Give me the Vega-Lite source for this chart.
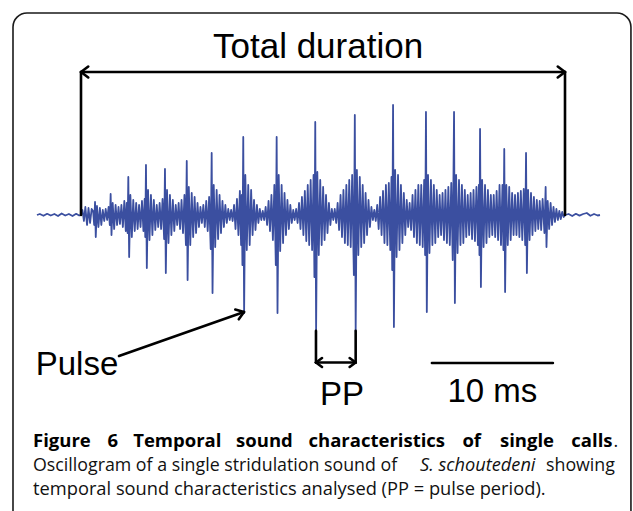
{
  "$schema": "https://vega.github.io/schema/vega-lite/v6.json",
  "width": 633,
  "height": 511,
  "padding": 0,
  "autosize": {"type": "none"},
  "background": "white",
  "config": {"view": {"stroke": null}},
  "datasets": {
    "frame": [{"t": -5.62, "a": 2.02, "t2": 45.45, "a2": -3.3}],
    "wave": [
      {"t":-3.64,"a":0},{"t":-3.4,"a":0.01},{"t":-3.1,"a":-0.008},{"t":-2.8,"a":0.012},{"t":-2.5,"a":-0.005},{"t":-2.2,"a":0.01},{"t":-1.9,"a":-0.01},{"t":-1.6,"a":0.015},{"t":-1.3,"a":-0.005},{"t":-1.0,"a":0.01},{"t":-0.7,"a":-0.01},{"t":-0.4,"a":0.012},{"t":-0.15,"a":-0.005},{"t":0,"a":0},
      {"t":0.12,"a":0.05},{"t":0.24,"a":-0.06},{"t":0.36,"a":0.08},{"t":0.5,"a":-0.1},{"t":0.62,"a":0.07},{"t":0.75,"a":-0.08},{"t":0.88,"a":0.06},{"t":1.0,"a":0.04},{"t":1.09,"a":-0.1},
      {"t":1.16,"a":0.13},{"t":1.22,"a":-0.22},{"t":1.32,"a":0.09},{"t":1.44,"a":-0.12},{"t":1.56,"a":0.07},{"t":1.68,"a":-0.1},{"t":1.8,"a":0.05},{"t":1.92,"a":-0.06},{"t":2.04,"a":0.06},{"t":2.16,"a":-0.05},{"t":2.28,"a":0.08},{"t":2.38,"a":-0.1},
      {"t":2.45,"a":0.21},{"t":2.52,"a":-0.2},{"t":2.62,"a":0.12},{"t":2.74,"a":-0.14},{"t":2.86,"a":0.1},{"t":2.98,"a":-0.1},{"t":3.1,"a":0.08},{"t":3.22,"a":-0.09},{"t":3.34,"a":0.1},{"t":3.46,"a":-0.12},{"t":3.58,"a":0.14},{"t":3.7,"a":-0.16},{"t":3.78,"a":0.12},{"t":3.85,"a":-0.18},
      {"t":3.91,"a":0.38},{"t":3.98,"a":-0.42},{"t":4.08,"a":0.2},{"t":4.2,"a":-0.22},{"t":4.32,"a":0.15},{"t":4.44,"a":-0.16},{"t":4.56,"a":0.12},{"t":4.68,"a":-0.14},{"t":4.8,"a":0.1},{"t":4.92,"a":-0.12},{"t":5.04,"a":0.14},{"t":5.16,"a":-0.16},{"t":5.26,"a":0.16},{"t":5.31,"a":-0.22},
      {"t":5.37,"a":0.5},{"t":5.44,"a":-0.53},{"t":5.54,"a":0.25},{"t":5.66,"a":-0.25},{"t":5.78,"a":0.2},{"t":5.9,"a":-0.2},{"t":6.02,"a":0.15},{"t":6.14,"a":-0.15},{"t":6.26,"a":0.1},{"t":6.38,"a":-0.12},{"t":6.5,"a":0.12},{"t":6.62,"a":-0.14},{"t":6.74,"a":0.16},{"t":6.87,"a":-0.24},
      {"t":6.94,"a":0.46},{"t":7.01,"a":-0.58},{"t":7.11,"a":0.25},{"t":7.23,"a":-0.28},{"t":7.35,"a":0.2},{"t":7.47,"a":-0.2},{"t":7.59,"a":0.15},{"t":7.71,"a":-0.16},{"t":7.83,"a":0.1},{"t":7.95,"a":-0.1},{"t":8.07,"a":0.12},{"t":8.19,"a":-0.14},{"t":8.31,"a":0.15},{"t":8.43,"a":-0.18},{"t":8.55,"a":0.2},{"t":8.67,"a":-0.3},
      {"t":8.74,"a":0.54},{"t":8.81,"a":-0.65},{"t":8.91,"a":0.28},{"t":9.03,"a":-0.3},{"t":9.15,"a":0.22},{"t":9.27,"a":-0.22},{"t":9.39,"a":0.18},{"t":9.51,"a":-0.18},{"t":9.63,"a":0.12},{"t":9.75,"a":-0.12},{"t":9.87,"a":0.08},{"t":9.99,"a":-0.08},{"t":10.11,"a":0.1},{"t":10.23,"a":-0.12},{"t":10.35,"a":0.14},{"t":10.47,"a":-0.16},{"t":10.59,"a":0.18},{"t":10.72,"a":-0.34},
      {"t":10.8,"a":0.62},{"t":10.87,"a":-0.78},{"t":10.97,"a":0.3},{"t":11.09,"a":-0.32},{"t":11.21,"a":0.25},{"t":11.33,"a":-0.24},{"t":11.45,"a":0.2},{"t":11.57,"a":-0.18},{"t":11.69,"a":0.14},{"t":11.81,"a":-0.12},{"t":11.93,"a":0.1},{"t":12.05,"a":-0.08},{"t":12.17,"a":0.06},{"t":12.29,"a":-0.05},{"t":12.41,"a":0.05},{"t":12.53,"a":-0.06},{"t":12.65,"a":0.1},{"t":12.77,"a":-0.14},{"t":12.89,"a":0.16},{"t":13.01,"a":-0.2},{"t":13.13,"a":0.24},{"t":13.23,"a":-0.3},{"t":13.29,"a":0.2},{"t":13.34,"a":-0.5},
      {"t":13.41,"a":0.78},{"t":13.48,"a":-0.98},{"t":13.58,"a":0.4},{"t":13.7,"a":-0.35},{"t":13.82,"a":0.3},{"t":13.94,"a":-0.3},{"t":14.06,"a":0.25},{"t":14.18,"a":-0.2},{"t":14.3,"a":0.15},{"t":14.42,"a":-0.15},{"t":14.54,"a":0.1},{"t":14.66,"a":-0.08},{"t":14.78,"a":0.06},{"t":14.9,"a":-0.05},{"t":15.02,"a":0.04},{"t":15.14,"a":-0.05},{"t":15.26,"a":0.08},{"t":15.38,"a":-0.1},{"t":15.5,"a":0.14},{"t":15.62,"a":-0.16},{"t":15.74,"a":0.2},{"t":15.86,"a":-0.25},{"t":15.98,"a":0.3},{"t":16.1,"a":-0.5},
      {"t":16.17,"a":0.78},{"t":16.24,"a":-0.98},{"t":16.34,"a":0.4},{"t":16.46,"a":-0.36},{"t":16.58,"a":0.3},{"t":16.7,"a":-0.28},{"t":16.82,"a":0.22},{"t":16.94,"a":-0.2},{"t":17.06,"a":0.15},{"t":17.18,"a":-0.14},{"t":17.3,"a":0.1},{"t":17.42,"a":-0.08},{"t":17.54,"a":0.05},{"t":17.66,"a":-0.05},{"t":17.78,"a":0.06},{"t":17.9,"a":-0.08},{"t":18.02,"a":0.12},{"t":18.14,"a":-0.14},{"t":18.26,"a":0.18},{"t":18.38,"a":-0.2},{"t":18.5,"a":0.24},{"t":18.62,"a":-0.26},{"t":18.74,"a":0.3},{"t":18.86,"a":-0.3},{"t":18.98,"a":0.35},{"t":19.1,"a":-0.35},{"t":19.22,"a":0.4},{"t":19.29,"a":-0.62},
      {"t":19.36,"a":0.93},{"t":19.43,"a":-1.16},{"t":19.53,"a":0.43},{"t":19.65,"a":-0.4},{"t":19.77,"a":0.35},{"t":19.89,"a":-0.3},{"t":20.01,"a":0.28},{"t":20.13,"a":-0.25},{"t":20.25,"a":0.2},{"t":20.37,"a":-0.18},{"t":20.49,"a":0.12},{"t":20.61,"a":-0.1},{"t":20.73,"a":0.06},{"t":20.85,"a":-0.05},{"t":20.97,"a":0.06},{"t":21.09,"a":-0.08},{"t":21.21,"a":0.12},{"t":21.33,"a":-0.15},{"t":21.45,"a":0.2},{"t":21.57,"a":-0.22},{"t":21.69,"a":0.25},{"t":21.81,"a":-0.28},{"t":21.93,"a":0.3},{"t":22.05,"a":-0.3},{"t":22.17,"a":0.35},{"t":22.29,"a":-0.32},{"t":22.41,"a":0.4},{"t":22.55,"a":-0.6},
      {"t":22.63,"a":1.0},{"t":22.7,"a":-1.16},{"t":22.8,"a":0.45},{"t":22.92,"a":-0.4},{"t":23.04,"a":0.38},{"t":23.16,"a":-0.32},{"t":23.28,"a":0.3},{"t":23.4,"a":-0.28},{"t":23.52,"a":0.22},{"t":23.64,"a":-0.2},{"t":23.76,"a":0.15},{"t":23.88,"a":-0.12},{"t":24.0,"a":0.08},{"t":24.12,"a":-0.05},{"t":24.24,"a":0.05},{"t":24.36,"a":-0.06},{"t":24.48,"a":0.1},{"t":24.6,"a":-0.14},{"t":24.72,"a":0.18},{"t":24.84,"a":-0.2},{"t":24.96,"a":0.24},{"t":25.08,"a":-0.28},{"t":25.2,"a":0.3},{"t":25.32,"a":-0.3},{"t":25.44,"a":0.32},{"t":25.56,"a":-0.35},{"t":25.66,"a":0.38},{"t":25.72,"a":-0.55},
      {"t":25.79,"a":1.1},{"t":25.86,"a":-1.12},{"t":25.96,"a":0.45},{"t":26.08,"a":-0.42},{"t":26.2,"a":0.4},{"t":26.32,"a":-0.35},{"t":26.44,"a":0.3},{"t":26.56,"a":-0.28},{"t":26.68,"a":0.22},{"t":26.8,"a":-0.2},{"t":26.92,"a":0.15},{"t":27.04,"a":-0.12},{"t":27.16,"a":0.12},{"t":27.28,"a":-0.15},{"t":27.4,"a":0.2},{"t":27.52,"a":-0.22},{"t":27.64,"a":0.25},{"t":27.76,"a":-0.28},{"t":27.88,"a":0.3},{"t":28.0,"a":-0.3},{"t":28.12,"a":0.3},{"t":28.24,"a":-0.32},{"t":28.36,"a":0.35},{"t":28.44,"a":-0.4},
      {"t":28.51,"a":1.03},{"t":28.58,"a":-0.97},{"t":28.68,"a":0.4},{"t":28.8,"a":-0.38},{"t":28.92,"a":0.35},{"t":29.04,"a":-0.3},{"t":29.16,"a":0.3},{"t":29.28,"a":-0.28},{"t":29.4,"a":0.25},{"t":29.52,"a":-0.22},{"t":29.64,"a":0.2},{"t":29.76,"a":-0.2},{"t":29.88,"a":0.22},{"t":30.0,"a":-0.25},{"t":30.12,"a":0.25},{"t":30.24,"a":-0.28},{"t":30.36,"a":0.28},{"t":30.48,"a":-0.3},{"t":30.6,"a":0.32},{"t":30.72,"a":-0.45},
      {"t":30.83,"a":1.03},{"t":30.9,"a":-0.88},{"t":31.0,"a":0.4},{"t":31.12,"a":-0.38},{"t":31.24,"a":0.35},{"t":31.36,"a":-0.3},{"t":31.48,"a":0.3},{"t":31.6,"a":-0.28},{"t":31.72,"a":0.25},{"t":31.84,"a":-0.22},{"t":31.96,"a":0.2},{"t":32.08,"a":-0.2},{"t":32.2,"a":0.22},{"t":32.32,"a":-0.24},{"t":32.44,"a":0.25},{"t":32.56,"a":-0.26},{"t":32.68,"a":0.28},{"t":32.8,"a":-0.3},{"t":32.88,"a":0.3},{"t":32.93,"a":-0.4},
      {"t":32.98,"a":0.86},{"t":33.05,"a":-0.72},{"t":33.15,"a":0.35},{"t":33.27,"a":-0.32},{"t":33.39,"a":0.3},{"t":33.51,"a":-0.28},{"t":33.63,"a":0.25},{"t":33.75,"a":-0.22},{"t":33.87,"a":0.2},{"t":33.99,"a":-0.2},{"t":34.11,"a":0.2},{"t":34.23,"a":-0.22},{"t":34.35,"a":0.24},{"t":34.47,"a":-0.25},{"t":34.59,"a":0.3},{"t":34.71,"a":-0.3},{"t":34.83,"a":0.3},{"t":34.91,"a":-0.35},
      {"t":34.98,"a":0.66},{"t":35.05,"a":-0.77},{"t":35.15,"a":0.3},{"t":35.27,"a":-0.3},{"t":35.39,"a":0.28},{"t":35.51,"a":-0.25},{"t":35.63,"a":0.22},{"t":35.75,"a":-0.2},{"t":35.87,"a":0.2},{"t":35.99,"a":-0.2},{"t":36.11,"a":0.22},{"t":36.23,"a":-0.22},{"t":36.35,"a":0.24},{"t":36.47,"a":-0.25},{"t":36.59,"a":0.26},{"t":36.71,"a":-0.3},
      {"t":36.78,"a":0.62},{"t":36.85,"a":-0.58},{"t":36.95,"a":0.25},{"t":37.07,"a":-0.25},{"t":37.19,"a":0.22},{"t":37.31,"a":-0.2},{"t":37.43,"a":0.18},{"t":37.55,"a":-0.16},{"t":37.67,"a":0.15},{"t":37.79,"a":-0.14},{"t":37.91,"a":0.14},{"t":38.03,"a":-0.15},{"t":38.15,"a":0.16},{"t":38.3,"a":-0.18},
      {"t":38.4,"a":0.28},{"t":38.47,"a":-0.32},{"t":38.57,"a":0.14},{"t":38.69,"a":-0.14},{"t":38.81,"a":0.12},{"t":38.93,"a":-0.1},{"t":39.05,"a":0.08},{"t":39.17,"a":-0.07},{"t":39.29,"a":0.06},{"t":39.41,"a":-0.05},{"t":39.53,"a":0.04},{"t":39.65,"a":-0.04},{"t":39.77,"a":0.03},{"t":39.89,"a":-0.02},{"t":40.0,"a":0},
      {"t":40.3,"a":0.01},{"t":40.6,"a":-0.01},{"t":40.9,"a":0.012},{"t":41.2,"a":-0.006},{"t":41.5,"a":0.01},{"t":41.8,"a":0.02},{"t":42.1,"a":-0.008},{"t":42.4,"a":0.01},{"t":42.7,"a":-0.005},{"t":42.89,"a":0}
    ],
    "segs": [
      {"t":0,"a":1.43,"t2":40,"a2":1.43},
      {"t":0,"a":1.43,"t2":0,"a2":0},
      {"t":40,"a":1.43,"t2":40,"a2":0},
      {"t":0,"a":1.43,"t2":0.6,"a2":1.485},
      {"t":0,"a":1.43,"t2":0.6,"a2":1.375},
      {"t":40,"a":1.43,"t2":39.4,"a2":1.485},
      {"t":40,"a":1.43,"t2":39.4,"a2":1.375},
      {"t":3.14,"a":-1.41,"t2":13.47,"a2":-0.97},
      {"t":13.47,"a":-0.97,"t2":12.75,"a2":-0.946},
      {"t":13.47,"a":-0.97,"t2":13.04,"a2":-1.043},
      {"t":19.42,"a":-1.157,"t2":19.42,"a2":-1.475},
      {"t":22.7,"a":-1.157,"t2":22.7,"a2":-1.475},
      {"t":19.42,"a":-1.475,"t2":22.7,"a2":-1.475},
      {"t":19.42,"a":-1.475,"t2":19.92,"a2":-1.43},
      {"t":19.42,"a":-1.475,"t2":19.92,"a2":-1.52},
      {"t":22.7,"a":-1.475,"t2":22.2,"a2":-1.43},
      {"t":22.7,"a":-1.475,"t2":22.2,"a2":-1.52},
      {"t":29.0,"a":-1.48,"t2":39.0,"a2":-1.48}
    ],
    "title": [
      {"t":19.59,"a":1.57,"label":"Total duration"}
    ],
    "labels": [
      {"t":-0.33,"a":-1.6,"label":"Pulse"},
      {"t":21.57,"a":-1.9,"label":"PP"},
      {"t":34.0,"a":-1.867,"label":"10 ms"}
    ],
    "capBold": [
      {"t":-3.967,"a":-2.315,"label":"Figure"},
      {"t":2.198,"a":-2.315,"label":"6"},
      {"t":4.314,"a":-2.315,"label":"Temporal"},
      {"t":12.818,"a":-2.315,"label":"sound"},
      {"t":18.802,"a":-2.315,"label":"characteristics"},
      {"t":31.521,"a":-2.315,"label":"of"},
      {"t":34.628,"a":-2.315,"label":"single"},
      {"t":40.521,"a":-2.315,"label":"calls"}
    ],
    "capRegular": [
      {"t":44.008,"a":-2.315,"label":"."},
      {"t":-3.967,"a":-2.56,"label":"Oscillogram of a single stridulation sound of"},
      {"t":38.43,"a":-2.56,"label":"showing"}
    ],
    "capLast": [
      {"t":-3.967,"a":-2.795,"label":"temporal sound characteristics analysed (PP = pulse period)."}
    ],
    "capItalic": [
      {"t":28.02,"a":-2.56,"label":"S. schoutedeni"}
    ]
  },
  "encoding": {
    "x": {"field": "t", "type": "quantitative", "scale": {"domain": [-6.694, 45.62], "nice": false, "zero": false}, "axis": null},
    "y": {"field": "a", "type": "quantitative", "scale": {"domain": [-2.96, 2.15], "nice": false, "zero": false}, "axis": null}
  },
  "layer": [
    {
      "data": {"name": "frame"},
      "mark": {"type": "rect", "fill": null, "fillOpacity": 0, "stroke": "#1a1a1a", "strokeWidth": 1.6, "cornerRadius": 14, "clip": true},
      "encoding": {"x2": {"field": "t2"}, "y2": {"field": "a2"}}
    },
    {
      "data": {"name": "wave"},
      "mark": {"type": "line", "color": "#3B4FA0", "strokeWidth": 1.8, "strokeJoin": "round"},
      "encoding": {"order": {"field": "t", "type": "quantitative"}}
    },
    {
      "data": {"name": "segs"},
      "mark": {"type": "rule", "color": "black", "strokeWidth": 2.6, "strokeCap": "round"},
      "encoding": {"x2": {"field": "t2"}, "y2": {"field": "a2"}}
    },
    {
      "data": {"name": "title"},
      "mark": {"type": "text", "font": "Liberation Sans", "fontSize": 35, "color": "black", "align": "center", "baseline": "alphabetic"},
      "encoding": {"text": {"field": "label"}}
    },
    {
      "data": {"name": "labels"},
      "mark": {"type": "text", "font": "Liberation Sans", "fontSize": 33, "color": "black", "align": "center", "baseline": "alphabetic"},
      "encoding": {"text": {"field": "label"}}
    },
    {
      "data": {"name": "capBold"},
      "mark": {"type": "text", "font": "Open Sans", "fontSize": 18.5, "fontWeight": "bold", "color": "black", "align": "left", "baseline": "alphabetic"},
      "encoding": {"text": {"field": "label"}}
    },
    {
      "data": {"name": "capRegular"},
      "mark": {"type": "text", "font": "Open Sans", "fontSize": 17.8, "color": "#111111", "align": "left", "baseline": "alphabetic"},
      "encoding": {"text": {"field": "label"}}
    },
    {
      "data": {"name": "capLast"},
      "mark": {"type": "text", "font": "Open Sans", "fontSize": 18.3, "color": "#111111", "align": "left", "baseline": "alphabetic"},
      "encoding": {"text": {"field": "label"}}
    },
    {
      "data": {"name": "capItalic"},
      "mark": {"type": "text", "font": "Open Sans", "fontSize": 18.2, "fontStyle": "italic", "color": "#111111", "align": "left", "baseline": "alphabetic"},
      "encoding": {"text": {"field": "label"}}
    }
  ]
}
